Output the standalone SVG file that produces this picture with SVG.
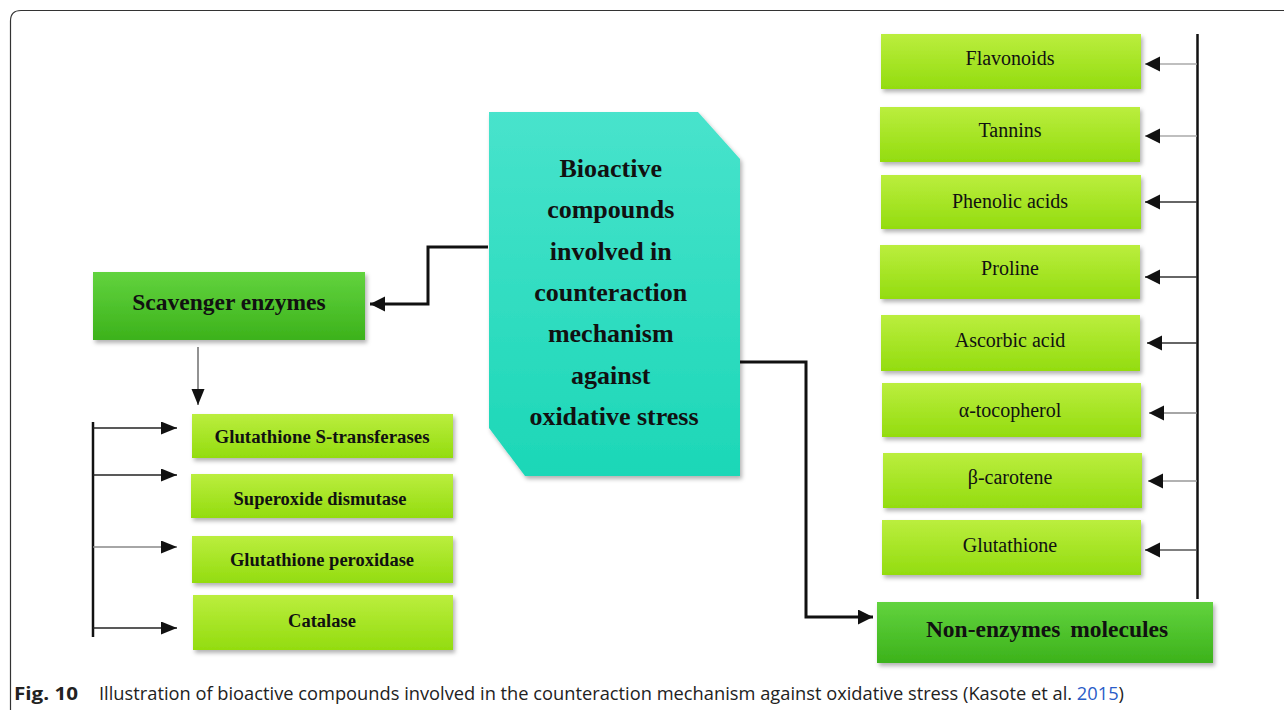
<svg xmlns="http://www.w3.org/2000/svg" width="1284" height="710" viewBox="0 0 1284 710">
<style>
.lbl{font-family:"Liberation Serif","Times New Roman",serif;fill:#111;text-anchor:middle}
.b{font-weight:bold}
.thick{fill:none;stroke:#111;stroke-width:3}
.thin{fill:none;stroke-width:1.6}
</style>
<defs>
<linearGradient id="gLight" x1="0" y1="0" x2="0" y2="1">
<stop offset="0" stop-color="#bbee3e"/>
<stop offset="1" stop-color="#93dc0f"/>
</linearGradient>
<linearGradient id="gDark" x1="0" y1="0" x2="0" y2="1">
<stop offset="0" stop-color="#62d33e"/>
<stop offset="1" stop-color="#3cb21b"/>
</linearGradient>
<linearGradient id="gTeal" x1="0" y1="0" x2="0" y2="1">
<stop offset="0" stop-color="#48e3cc"/>
<stop offset="1" stop-color="#1cd7b7"/>
</linearGradient>
<filter id="sh" x="-10%" y="-10%" width="120%" height="130%">
<feDropShadow dx="2" dy="3" stdDeviation="2" flood-color="#000" flood-opacity="0.3"/>
</filter>
<marker id="ah" markerUnits="userSpaceOnUse" markerWidth="16" markerHeight="16" refX="15" refY="7.5" orient="auto">
<path d="M0,0 L15,7.5 L0,15 z" fill="#111"/>
</marker>
<marker id="ahs" markerUnits="userSpaceOnUse" markerWidth="16" markerHeight="16" refX="16" refY="6.5" orient="auto">
<path d="M0,0 L16,6.5 L0,13 z" fill="#111"/>
</marker>
</defs>
<rect width="1284" height="710" fill="#fff"/>
<path d="M10.5,712 L10.5,21 Q10.5,10.5 21,10.5 L1290,10.5" fill="none" stroke="#333" stroke-width="1.2"/>

<g id="connectors">
<path class="thick" d="M488,247 L428,247 L428,304 L370,304" marker-end="url(#ah)"/>
<path class="thick" d="M740,362 L806,362 L806,617 L873,617" marker-end="url(#ah)"/>
<path class="thin" stroke="#777" d="M198,347 L198,405" marker-end="url(#ahs)"/>
<line x1="93" y1="422" x2="93" y2="637" stroke="#111" stroke-width="2.5"/>
<path class="thin" stroke="#222" d="M93,428 L177,428" marker-end="url(#ahs)"/>
<path class="thin" stroke="#222" d="M93,475 L177,475" marker-end="url(#ahs)"/>
<path class="thin" stroke="#888" d="M93,547 L177,547" marker-end="url(#ahs)"/>
<path class="thin" stroke="#222" d="M93,628 L177,628" marker-end="url(#ahs)"/>
<line x1="1197.5" y1="34" x2="1197.5" y2="599" stroke="#111" stroke-width="2.5"/>
<path class="thin" stroke="#aaa" d="M1197,64 L1145,64" marker-end="url(#ah)"/>
<path class="thin" stroke="#aaa" d="M1197,136 L1145,136" marker-end="url(#ah)"/>
<path class="thin" stroke="#333" d="M1197,202 L1145,202" marker-end="url(#ah)"/>
<path class="thin" stroke="#333" d="M1197,277 L1145,277" marker-end="url(#ah)"/>
<path class="thin" stroke="#333" d="M1197,343 L1147,343" marker-end="url(#ah)"/>
<path class="thin" stroke="#888" d="M1197,413 L1149,413" marker-end="url(#ah)"/>
<path class="thin" stroke="#999" d="M1197,481 L1148,481" marker-end="url(#ah)"/>
<path class="thin" stroke="#555" d="M1197,550 L1145,550" marker-end="url(#ah)"/>
</g>

<g id="center">
<polygon points="489,112 698,112 740,159 740,476 525,476 489,428" fill="url(#gTeal)" filter="url(#sh)"/>
<text class="lbl b" font-size="26" x="614">
<tspan x="614" y="177">Bioactive</tspan>
<tspan x="614" y="218">compounds</tspan>
<tspan x="614" y="260">involved in</tspan>
<tspan x="614" y="301">counteraction</tspan>
<tspan x="614" y="342">mechanism</tspan>
<tspan x="614" y="384">against</tspan>
<tspan x="614" y="425">oxidative stress</tspan>
</text>
</g>

<g id="scavenger">
<rect x="93" y="272" width="272" height="68" fill="url(#gDark)" filter="url(#sh)"/>
<text class="lbl b" font-size="23.5" x="229" y="310">Scavenger enzymes</text>
</g>
<g id="gst">
<rect x="192" y="414" width="261" height="44" fill="url(#gLight)" filter="url(#sh)"/>
<text class="lbl b" font-size="18.5" x="322" y="443" textLength="215" lengthAdjust="spacingAndGlyphs">Glutathione S-transferases</text>
</g>
<g id="sod">
<rect x="191" y="474" width="262" height="44" fill="url(#gLight)" filter="url(#sh)"/>
<text class="lbl b" font-size="18.5" x="320" y="505">Superoxide dismutase</text>
</g>
<g id="gpx">
<rect x="192" y="536" width="261" height="47" fill="url(#gLight)" filter="url(#sh)"/>
<text class="lbl b" font-size="18.5" x="322" y="566">Glutathione peroxidase</text>
</g>
<g id="catalase">
<rect x="193" y="595" width="260" height="55" fill="url(#gLight)" filter="url(#sh)"/>
<text class="lbl b" font-size="18.5" x="322" y="627">Catalase</text>
</g>

<g id="flavonoids">
<rect x="881" y="34" width="260" height="55" fill="url(#gLight)" filter="url(#sh)"/>
<text class="lbl" font-size="20" x="1010" y="65">Flavonoids</text>
</g>
<g id="tannins">
<rect x="880" y="107" width="260" height="55" fill="url(#gLight)" filter="url(#sh)"/>
<text class="lbl" font-size="20" x="1010" y="137">Tannins</text>
</g>
<g id="phenolic">
<rect x="881" y="175" width="260" height="54" fill="url(#gLight)" filter="url(#sh)"/>
<text class="lbl" font-size="20" x="1010" y="208">Phenolic acids</text>
</g>
<g id="proline">
<rect x="880" y="245" width="260" height="54" fill="url(#gLight)" filter="url(#sh)"/>
<text class="lbl" font-size="20" x="1010" y="275">Proline</text>
</g>
<g id="ascorbic">
<rect x="881" y="315" width="259" height="56" fill="url(#gLight)" filter="url(#sh)"/>
<text class="lbl" font-size="20" x="1010" y="347">Ascorbic acid</text>
</g>
<g id="tocopherol">
<rect x="882" y="383" width="259" height="54" fill="url(#gLight)" filter="url(#sh)"/>
<text class="lbl" font-size="20" x="1010" y="417">α-tocopherol</text>
</g>
<g id="carotene">
<rect x="883" y="453" width="259" height="55" fill="url(#gLight)" filter="url(#sh)"/>
<text class="lbl" font-size="20" x="1010" y="484">β-carotene</text>
</g>
<g id="glutathione">
<rect x="882" y="520" width="259" height="55" fill="url(#gLight)" filter="url(#sh)"/>
<text class="lbl" font-size="20" x="1010" y="552">Glutathione</text>
</g>
<g id="nonenzymes">
<rect x="877" y="602" width="336" height="61" fill="url(#gDark)" filter="url(#sh)"/>
<text class="lbl b" font-size="23.5" x="1047" y="637" word-spacing="4">Non-enzymes molecules</text>
</g>

<g id="caption" font-family="'Open Sans','Liberation Sans',sans-serif" font-size="18" fill="#222">
<text x="14" y="700" font-weight="bold" textLength="64" lengthAdjust="spacingAndGlyphs">Fig. 10</text>
<text x="99" y="700" textLength="1025" lengthAdjust="spacingAndGlyphs">Illustration of bioactive compounds involved in the counteraction mechanism against oxidative stress (Kasote et al. <tspan fill="#2a5cc8">2015</tspan>)</text>
</g>
</svg>
